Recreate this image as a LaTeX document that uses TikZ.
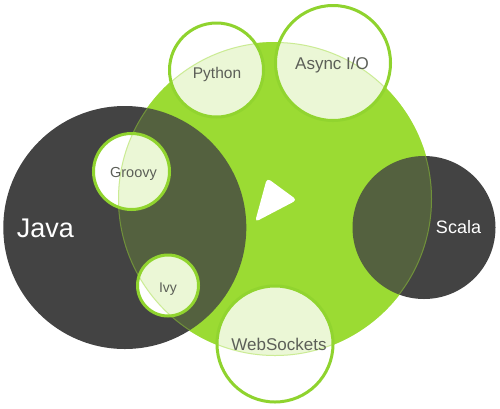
\documentclass[tikz,border=0pt]{standalone}
\usepackage{fontspec}
\setmainfont{Liberation Sans}
\definecolor{leaf}{HTML}{9BDB33}
\definecolor{ringleaf}{HTML}{8FD32E}
\definecolor{coal}{HTML}{434343}
\definecolor{labelgray}{HTML}{5C5F58}
\tikzset{
  ring/.style={draw=ringleaf, line width=3pt, fill=white},
  lbl/.style={text=labelgray, inner sep=0pt},
}
\begin{document}
\begin{tikzpicture}[x=1pt, y=-1pt]
        \useasboundingbox (0,0) rectangle (500,408);
        \fill [leaf] (275,199) circle (157);
        \fill [coal] (124.8,227.5) circle (121.5);
        \fill [coal] (424,227.5) circle (71.5);
        \draw [ring] (216.5,70) circle (47);
        \draw [ring] (333,63) circle (57.5);
        \draw [ring] (131.5,171.5) circle (38);
        \draw [ring] (168,285.5) circle (30.5);
        \draw [ring] (275,344) circle (58);
        % tint over everything
        \fill [leaf, fill opacity=.2] (275,199) circle (157);
        \draw [leaf, opacity=.4, line width=1pt] (275,199) circle (156.5);
        \fill [white, rounded corners=4pt] (267,178)--(297,200)--(255,222)--cycle;
        \node (java) at (45.5,228.5) [white, inner sep=0pt]{\fontsize{27}{27}\selectfont Java};
        \node (scala) at (458.5,227) [white, inner sep=0pt]{\fontsize{18}{18}\selectfont Scala};
        \node (python) at (217,74) [lbl]{\fontsize{15.5}{15.5}\selectfont Python};
        \node (async) at (332,65) [lbl]{\fontsize{17}{17}\selectfont Async I/O};
        \node (groovy) at (133.5,174) [lbl]{\fontsize{14.5}{14.5}\selectfont Groovy};
        \node (ivy) at (168,289) [lbl]{\fontsize{14}{14}\selectfont Ivy};
        \node (websockets) at (279,344) [lbl]{\fontsize{17}{17}\selectfont WebSockets};
\end{tikzpicture}
\end{document}
